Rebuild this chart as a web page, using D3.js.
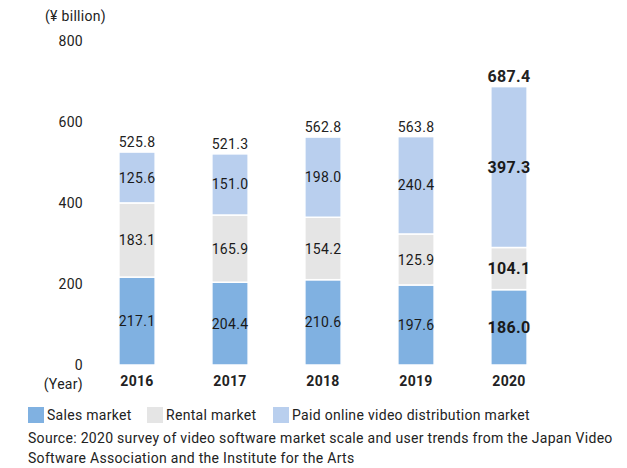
<!DOCTYPE html>
<html>
<head>
<meta charset="utf-8">
<script src="https://cdn.jsdelivr.net/npm/d3@7"></script>
<style>
  body { margin: 0; background: #fff; }
  svg text { font-family: Roboto, "DejaVu Sans", sans-serif; fill: #222; letter-spacing: 0.3px; }
</style>
</head>
<body>
<svg id="chart" width="627" height="468"></svg>
<script>
// data
const years = ["2016", "2017", "2018", "2019", "2020"];
const sales = [217.1, 204.4, 210.6, 197.6, 186.0];
const rental = [183.1, 165.9, 154.2, 125.9, 104.1];
const paid = [125.6, 151.0, 198.0, 240.4, 397.3];
const totals = [525.8, 521.3, 562.8, 563.8, 687.4];
const yTicks = [0, 200, 400, 600, 800];

const seriesNames = ["Sales market", "Rental market", "Paid online video distribution market"];
const colors = ["#80b1e1", "#e5e5e5", "#b9cfee"];

const svg = d3.select("#chart");

const x = d3.scaleBand().domain(years).range([91, 555]).paddingInner(0.61).paddingOuter(0.3);
const y = d3.scaleLinear().domain([0, 800]).range([365, 41]);

const rows = years.map((yr, i) => ({ year: yr, s0: sales[i], s1: rental[i], s2: paid[i], total: totals[i] }));
const stack = d3.stack().keys(["s0", "s1", "s2"])(rows);

// bars
const layer = svg.selectAll("g.layer")
  .data(stack)
  .enter().append("g")
  .attr("fill", (d, i) => colors[i]);

layer.selectAll("rect")
  .data(d => d)
  .enter().append("rect")
  .attr("x", d => x(d.data.year))
  .attr("width", x.bandwidth())
  .attr("y", d => y(d[1]))
  .attr("height", d => y(d[0]) - y(d[1]))
  .attr("stroke", "#fff")
  .attr("stroke-width", 1.5);

// labels inside segments
layer.selectAll("text")
  .data((d, i) => d.map(v => ({ v, key: d.key })))
  .enter().append("text")
  .attr("x", d => x(d.v.data.year) + x.bandwidth() / 2)
  .attr("y", d => (y(d.v[0]) + y(d.v[1])) / 2)
  .attr("dy", "0.36em")
  .attr("text-anchor", "middle")
  .style("font-size", d => d.v.data.year === "2020" ? "16px" : "14px")
  .style("font-weight", d => d.v.data.year === "2020" ? "bold" : "normal")
  .style("fill", "#1a1a1a")
  .text(d => d.v.data[d.key].toFixed(1));

// totals above bars
svg.selectAll("text.total")
  .data(rows)
  .enter().append("text")
  .attr("class", "total")
  .attr("x", d => x(d.year) + x.bandwidth() / 2)
  .attr("y", d => y(d.total) - 5)
  .attr("text-anchor", "middle")
  .style("font-size", d => d.year === "2020" ? "16px" : "14px")
  .style("font-weight", d => d.year === "2020" ? "bold" : "normal")
  .text(d => d.total.toFixed(1));

// y axis labels (no line)
const yAxis = svg.append("g")
  .attr("transform", "translate(83,0)")
  .call(d3.axisLeft(y).tickValues(yTicks).tickSize(0).tickPadding(0));
yAxis.select(".domain").remove();
yAxis.selectAll("text").style("font-size", "14px").style("fill", "#222");

// x axis labels
const xAxis = svg.append("g")
  .attr("transform", "translate(0,376)")
  .call(d3.axisBottom(x).tickSize(0).tickPadding(0));
xAxis.select(".domain").remove();
xAxis.selectAll("text").style("font-size", "14px").style("font-weight", "bold").style("fill", "#222");

svg.append("text")
  .attr("x", 83).attr("y", 389)
  .attr("text-anchor", "end")
  .style("font-size", "14px")
  .text("(Year)");

svg.append("text")
  .attr("x", 45).attr("y", 21)
  .style("font-size", "14px")
  .text("(¥ billion)");

// legend
const legendX = [28, 147, 273];
const legend = svg.selectAll("g.legend")
  .data(seriesNames)
  .enter().append("g")
  .attr("transform", (d, i) => `translate(${legendX[i]},407)`);
legend.append("rect").attr("width", 16).attr("height", 16).attr("fill", (d, i) => colors[i]);
legend.append("text").attr("x", 19).attr("y", 13).style("font-size", "14px").text(d => d);

svg.append("text").attr("x", 28).attr("y", 443).style("font-size", "14px")
  .text("Source: 2020 survey of video software market scale and user trends from the Japan Video");
svg.append("text").attr("x", 28).attr("y", 463).style("font-size", "14px")
  .text("Software Association and the Institute for the Arts");
</script>
</body>
</html>
